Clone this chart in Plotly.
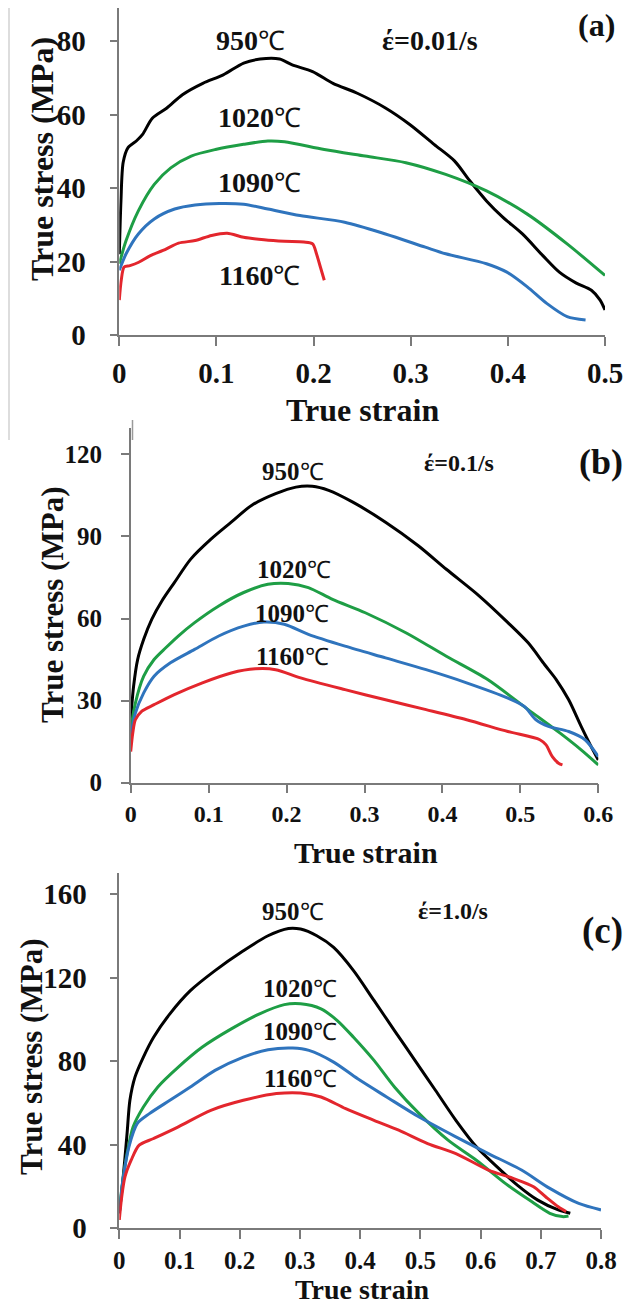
import plotly.graph_objects as go

# The page body has a default 8px margin, so the figure is drawn 8px in from the
# top-left corner of the window; sizes below compensate for that.
WIN_W, WIN_H = 636, 1308
OFF = 8
W, H = WIN_W - OFF, WIN_H - OFF
FONT = "Liberation Serif, Times New Roman, serif"
AXC = "#7a7a7a"

temps = ["950", "1020", "1090", "1160"]
colors = ["#000000", "#1e9e45", "#2f74bd", "#e3262d"]

# ---------------- Panel (a): strain rate 0.01/s ----------------
a_950_x = [0, 0.0017, 0.004, 0.009, 0.0175, 0.024, 0.034, 0.049, 0.065, 0.086, 0.107, 0.128, 0.145, 0.165,
           0.178, 0.199, 0.22, 0.245, 0.274, 0.299, 0.324, 0.345, 0.361, 0.378, 0.395, 0.415, 0.436, 0.453,
           0.47, 0.486, 0.495, 0.5]
a_950_y = [22, 36.5, 47, 51, 52.8, 54.6, 59, 61.8, 65.4, 68.5, 70.8, 74, 75.1, 75.1,
           73.5, 71.7, 68.5, 65.8, 61.8, 57.3, 51.9, 47.4, 41.9, 36.5, 32, 27.5, 21.6, 17.1,
           14.2, 12.2, 9.5, 6.8]
a_1020_x = [0, 0.007, 0.0196, 0.036, 0.053, 0.074, 0.099, 0.128, 0.153, 0.17, 0.211, 0.253, 0.295, 0.336,
            0.378, 0.42, 0.461, 0.5]
a_1020_y = [19.4, 25.7, 33.8, 41, 45.5, 48.7, 50.5, 51.9, 52.8, 52.6, 50.5, 48.7, 46.9, 43.7,
            39.2, 32.9, 24.8, 16.2]
a_1090_x = [0, 0.007, 0.0196, 0.036, 0.057, 0.078, 0.103, 0.128, 0.153, 0.186, 0.232, 0.274, 0.315, 0.336,
            0.378, 0.399, 0.42, 0.44, 0.461, 0.48]
a_1090_y = [17.6, 22.1, 27.5, 31.6, 34.3, 35.4, 35.8, 35.6, 34.3, 32.5, 30.7, 27.5, 23.9, 22.1,
            19.4, 17.1, 13.1, 8.6, 5, 4.1]
a_1160_x = [0, 0.002, 0.005, 0.011, 0.02, 0.032, 0.045, 0.061, 0.078, 0.095, 0.111, 0.128, 0.149, 0.17,
            0.19, 0.199, 0.203, 0.207, 0.211]
a_1160_y = [9.5, 14.9, 18.5, 18.9, 19.8, 21.6, 23, 25, 25.7, 27.1, 27.7, 26.6, 25.9, 25.5,
            25.3, 24.8, 22.1, 18.5, 14.9]

# ---------------- Panel (b): strain rate 0.1/s ----------------
b_950_x = [0, 0.0037, 0.0089, 0.0167, 0.027, 0.040, 0.056, 0.077, 0.103, 0.129, 0.155, 0.186, 0.212, 0.233,
           0.254, 0.285, 0.327, 0.369, 0.405, 0.447, 0.484, 0.51, 0.531, 0.546, 0.562, 0.578, 0.593, 0.6]
b_950_y = [23, 35.2, 45, 52.4, 59.7, 66.4, 73.1, 81.7, 89, 95.2, 101.3, 105.6, 108, 108.3,
           106.8, 102.5, 95.2, 86.6, 78, 68.3, 58.5, 51.1, 43.2, 37.7, 30.3, 20.6, 12, 8.3]
b_1020_x = [0, 0.006, 0.0167, 0.030, 0.045, 0.061, 0.082, 0.113, 0.145, 0.176, 0.202, 0.228, 0.259, 0.301,
            0.353, 0.405, 0.458, 0.51, 0.551, 0.578, 0.6]
b_1020_y = [19.3, 29.1, 38.9, 45, 49.3, 53.6, 58.5, 64.6, 69.5, 72.5, 72.8, 71.3, 67, 62.1,
            54.8, 46.2, 37.7, 26.7, 18.1, 12, 6.5]
b_1090_x = [0, 0.006, 0.0167, 0.030, 0.051, 0.082, 0.113, 0.145, 0.171, 0.197, 0.228, 0.275, 0.327, 0.379,
            0.431, 0.484, 0.505, 0.52, 0.536, 0.562, 0.583, 0.6]
b_1090_y = [16.9, 25.4, 32.8, 38.9, 43.8, 48.7, 53.6, 57.2, 58.7, 57.9, 54.2, 49.9, 45.6, 41.3,
            36.5, 30.9, 27.9, 23, 20.6, 18.7, 15.7, 9.5]
b_1160_x = [0, 0.0026, 0.006, 0.014, 0.030, 0.056, 0.092, 0.129, 0.160, 0.186, 0.218, 0.275, 0.327, 0.379,
            0.431, 0.484, 0.525, 0.533, 0.541, 0.549, 0.554]
b_1160_y = [11.4, 18.1, 23, 26.1, 28.5, 32.2, 36.5, 40.1, 41.6, 41.3, 38.3, 34, 30.3, 26.7,
            23, 18.7, 15.7, 13.8, 9.5, 7.1, 6.5]

# ---------------- Panel (c): strain rate 1.0/s ----------------
c_950_x = [0, 0.006, 0.0129, 0.0176, 0.026, 0.040, 0.057, 0.084, 0.118, 0.159, 0.206, 0.247, 0.281, 0.301,
           0.328, 0.356, 0.389, 0.423, 0.457, 0.491, 0.525, 0.559, 0.593, 0.627, 0.661, 0.695, 0.729, 0.749]
c_950_y = [7.2, 23.1, 45.4, 61.3, 72.4, 82, 91.5, 102.7, 113.8, 123.4, 132.9, 140.1, 143.6, 143.3,
           140.1, 134.5, 123.4, 109.1, 94.7, 80.4, 66.1, 51.7, 39, 29.5, 20.7, 13.5, 8.8, 7.2]
c_1020_x = [0, 0.006, 0.0129, 0.023, 0.040, 0.064, 0.098, 0.138, 0.186, 0.233, 0.274, 0.301, 0.335, 0.362,
            0.389, 0.423, 0.457, 0.498, 0.546, 0.593, 0.641, 0.681, 0.715, 0.736, 0.746]
c_1020_y = [8.8, 23.1, 35.8, 48.6, 58.1, 67.7, 77.2, 86.8, 95.5, 102.7, 107.1, 107.5, 105.1, 99.5,
            91.5, 80.4, 67.7, 54.9, 42.2, 32.6, 21.5, 13.5, 7.2, 5.6, 5.9]
c_1090_x = [0, 0.006, 0.016, 0.030, 0.050, 0.084, 0.118, 0.159, 0.206, 0.247, 0.288, 0.315, 0.356, 0.396,
            0.444, 0.498, 0.559, 0.613, 0.668, 0.715, 0.763, 0.8]
c_1090_y = [7.2, 23.1, 39, 50.2, 54.9, 61.3, 67.7, 75.6, 82, 85.5, 86.3, 85.2, 79.6, 71.6,
            62.9, 53.3, 43.8, 35.8, 27.9, 19.1, 11.9, 8.8]
c_1160_x = [0, 0.004, 0.0095, 0.0197, 0.033, 0.057, 0.098, 0.152, 0.206, 0.261, 0.301, 0.335, 0.376, 0.423,
            0.464, 0.512, 0.559, 0.613, 0.654, 0.688, 0.708, 0.729, 0.742]
c_1160_y = [4, 15.1, 24.7, 32.6, 39.8, 43, 48.6, 56.5, 61.3, 64.5, 64.8, 62.9, 57.3, 51.7,
            47, 40.6, 35.8, 27.9, 23.9, 19.9, 15.1, 10.3, 8]

panels = [
    dict(xs=[a_950_x, a_1020_x, a_1090_x, a_1160_x], ys=[a_950_y, a_1020_y, a_1090_y, a_1160_y]),
    dict(xs=[b_950_x, b_1020_x, b_1090_x, b_1160_x], ys=[b_950_y, b_1020_y, b_1090_y, b_1160_y]),
    dict(xs=[c_950_x, c_1020_x, c_1090_x, c_1160_x], ys=[c_950_y, c_1020_y, c_1090_y, c_1160_y]),
]
x_ranges = [[0, 0.5], [0, 0.6], [0, 0.8]]
y_ranges = [[0, 89], [0, 129.5], [0, 170]]
y_dticks = [20, 30, 40]
rate_labels = ["έ=0.01/s", "έ=0.1/s", "έ=1.0/s"]
panel_labels = ["(a)", "(b)", "(c)"]


def px(x):
    return (x - OFF) / W


def py(y):
    return 1 - (y - OFF) / H


# window-pixel boxes of the plot areas: (left, right, top, bottom)
boxes = [(119.3, 605, 8, 335), (130.7, 598.3, 428.3, 782.7), (119.3, 601, 873.3, 1228.3)]
tick_sizes_x = [29, 24, 25]
tick_sizes_y = [29, 25, 29]
x_standoff = [2, 0, 0]
y_standoff = [18, 14, 17]

fig = go.Figure()
for i, p in enumerate(panels):
    sfx = "" if i == 0 else str(i + 1)
    for j in range(4):
        fig.add_trace(go.Scatter(x=p["xs"][j], y=p["ys"][j], mode="lines",
                                 line=dict(color=colors[j], width=3, shape="spline", smoothing=0.8),
                                 name=temps[j] + "℃", xaxis="x" + sfx, yaxis="y" + sfx, showlegend=False))
    l, r, t, b = boxes[i]
    common = dict(showgrid=False, zeroline=False, showline=True, linecolor=AXC, linewidth=1.5,
                  ticks="outside", tickcolor=AXC, tickwidth=1.5, automargin=False)
    fig.layout["xaxis" + sfx] = dict(domain=[px(l), px(r)], range=x_ranges[i], dtick=0.1, tick0=0,
                                     anchor="y" + sfx, ticklen=9, ticklabelstandoff=x_standoff[i],
                                     tickfont=dict(family=FONT, size=tick_sizes_x[i], color="#111", weight="bold"),
                                     **common)
    fig.layout["yaxis" + sfx] = dict(domain=[py(b), py(t)], range=y_ranges[i], dtick=y_dticks[i], tick0=0,
                                     anchor="x" + sfx, ticklen=8, ticklabelstandoff=y_standoff[i],
                                     tickfont=dict(family=FONT, size=tick_sizes_y[i], color="#111", weight="bold"),
                                     **common)

annots = []


def add_text(text, x, y, size, angle=0):
    annots.append(dict(text=text, x=px(x), y=py(y), xref="paper", yref="paper", showarrow=False,
                       xanchor="center", yanchor="middle", textangle=angle,
                       font=dict(family=FONT, size=size, color="#111", weight="bold")))


def temp_text(t, size):
    return t + "<span style='font-size:%dpx;font-weight:normal'>℃</span>" % round(size * 0.95)


# axis titles
add_text("True strain", 362, 410, 32)
add_text("True stress (MPa)", 42, 159, 32, -90)
add_text("True strain", 366, 852, 30)
add_text("True stress (MPa)", 52, 605, 31, -90)
add_text("True strain", 362, 1289, 28)
add_text("True stress (MPa)", 31, 1057, 31, -90)

temp_pos = [
    [(250, 41, 28), (259, 117, 28), (259, 183, 28), (259, 275, 28)],
    [(293, 472, 25), (294, 569, 25), (292, 613, 25), (292, 656, 25)],
    [(293, 911, 25), (300, 988, 25), (300, 1031, 25), (300, 1078, 25)],
]
rate_pos = [(430, 41, 28), (459, 463, 24), (453, 911, 24)]
lab_pos = [(596, 25, 32), (601, 462, 36), (602, 931, 37)]
for i in range(3):
    for j in range(4):
        x, y, s = temp_pos[i][j]
        add_text(temp_text(temps[j], s), x, y, s)
    x, y, s = rate_pos[i]
    add_text(rate_labels[i], x, y, s)
    x, y, s = lab_pos[i]
    add_text(panel_labels[i], x, y, s)

shapes = [
    dict(type="line", xref="paper", yref="paper", x0=px(9), x1=px(9), y0=py(8), y1=py(440),
         line=dict(color="#d2d2d2", width=1.5)),
    dict(type="line", xref="paper", yref="paper", x0=px(132.5), x1=px(132.5), y0=py(420), y1=py(440),
         line=dict(color="#9a9a9a", width=1.5)),
]

fig.update_layout(width=W, height=H, margin=dict(l=0, r=0, t=0, b=0),
                  paper_bgcolor="white", plot_bgcolor="white",
                  annotations=annots, shapes=shapes, showlegend=False)
fig.write_html("out.html")
